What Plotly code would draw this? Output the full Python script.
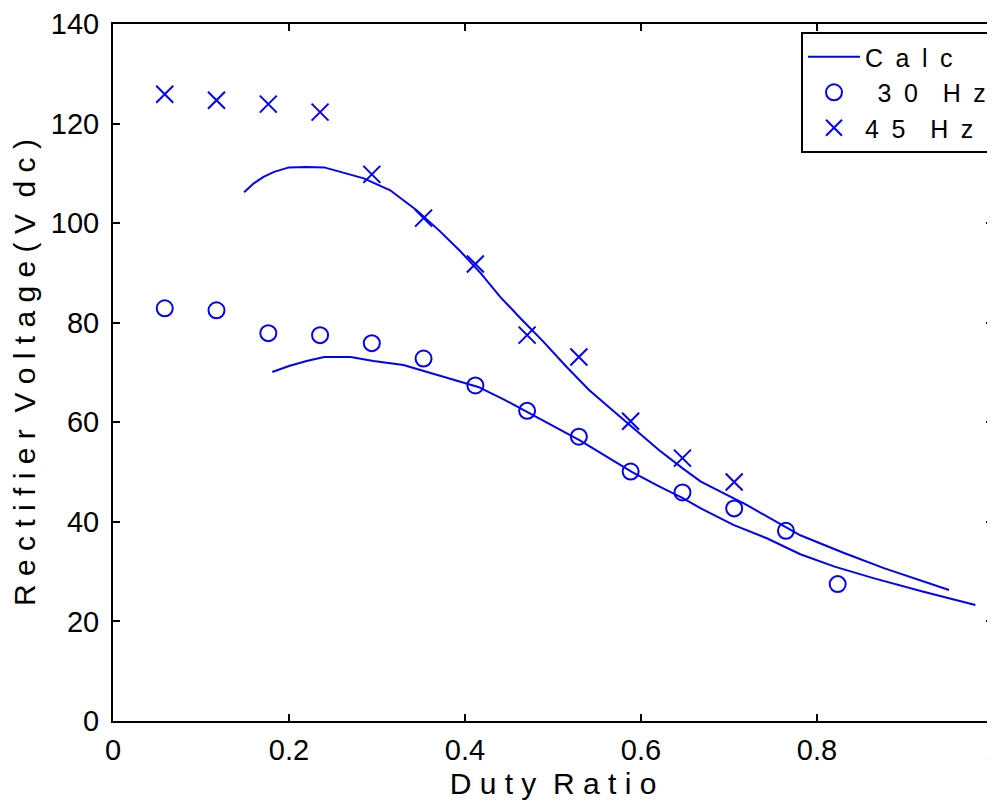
import plotly.graph_objects as go

# Measured data
duty_30 = [0.0588, 0.1176, 0.1765, 0.2353, 0.2941, 0.3529, 0.4118, 0.4706,
           0.5294, 0.5882, 0.6471, 0.7059, 0.7647, 0.8235]
volt_30 = [82.9, 82.5, 77.9, 77.5, 75.9, 72.8, 67.4, 62.3, 57.1, 50.1, 45.9, 42.7, 38.2, 27.5]

duty_45 = [0.0588, 0.1176, 0.1765, 0.2353, 0.2941, 0.3529, 0.4118, 0.4706,
           0.5294, 0.5882, 0.6471, 0.7059]
volt_45 = [125.9, 124.7, 123.9, 122.3, 109.8, 101.0, 91.8, 77.5, 73.1, 60.2, 52.8, 48.0]

# Calculated curves
calc45_x = [0.149, 0.160, 0.171, 0.183, 0.200, 0.220, 0.240, 0.262, 0.285, 0.315,
            0.345, 0.372, 0.395, 0.418, 0.440, 0.463, 0.489, 0.515, 0.541, 0.565,
            0.588, 0.620, 0.647, 0.668, 0.720, 0.781, 0.830, 0.876, 0.950]
calc45_y = [106.2, 108.0, 109.3, 110.3, 111.2, 111.3, 111.2, 110.1, 109.0, 106.6,
            102.6, 98.3, 94.3, 89.9, 85.2, 80.9, 76.2, 71.2, 66.5, 62.8,
            59.3, 54.5, 50.8, 48.1, 43.4, 37.3, 33.8, 30.7, 26.3]

calc30_x = [0.181, 0.200, 0.220, 0.240, 0.270, 0.296, 0.330, 0.357, 0.384, 0.415,
            0.445, 0.473, 0.500, 0.531, 0.560, 0.590, 0.620, 0.647, 0.668, 0.705,
            0.743, 0.781, 0.820, 0.864, 0.920, 0.980]
calc30_y = [70.1, 71.3, 72.3, 73.1, 73.1, 72.3, 71.5, 70.1, 68.8, 67.1,
            64.5, 61.8, 59.3, 56.3, 53.2, 50.0, 47.2, 44.8, 42.7, 39.4,
            36.7, 33.5, 31.0, 28.7, 26.0, 23.3]

x_ticks = [0, 0.2, 0.4, 0.6, 0.8, 1]
x_ticktext = ["0", "0.2", "0.4", "0.6", "0.8", "1"]
y_ticks = [0, 20, 40, 60, 80, 100, 120, 140]

BLUE = "#0000FF"
FONT = "Liberation Sans, Arial, Helvetica, sans-serif"
NB = "\u00a0"
EN = "\u2002"

fig = go.Figure()
fig.add_trace(go.Scatter(x=calc45_x, y=calc45_y, mode="lines",
                         line=dict(color=BLUE, width=2),
                         name=EN.join("Calc"), showlegend=True))
fig.add_trace(go.Scatter(x=duty_30, y=volt_30, mode="markers",
                         marker=dict(symbol="circle-open", size=16, color=BLUE,
                                     line=dict(width=2, color=BLUE)),
                         name=EN + "3" + EN + "0" + EN + EN + "H" + EN + "z"))
fig.add_trace(go.Scatter(x=duty_45, y=volt_45, mode="markers",
                         marker=dict(symbol="x-thin-open", size=17, color=BLUE,
                                     line=dict(width=2, color=BLUE)),
                         name="4" + EN + "5" + EN + EN + "H" + EN + "z"))
fig.add_trace(go.Scatter(x=calc30_x, y=calc30_y, mode="lines",
                         line=dict(color=BLUE, width=2),
                         name="Calc30", showlegend=False))

axis_common = dict(showline=True, linecolor="black", linewidth=2, mirror="ticks",
                   ticks="inside", ticklen=7, tickwidth=1.5, tickcolor="black",
                   showgrid=False, zeroline=False, automargin=False,
                   ticklabeloverflow="allow",
                   tickfont=dict(family=FONT, size=29, color="black"))

fig.update_xaxes(range=[0, 1], tickvals=x_ticks, ticktext=x_ticktext,
                 ticklabelstandoff=2,
                 title=dict(text=NB.join("Duty") + NB + NB + NB.join("Ratio"),
                            font=dict(family=FONT, size=30, color="black"),
                            standoff=8),
                 **axis_common)
fig.update_yaxes(range=[0, 140], tickvals=y_ticks,
                 ticklabelstandoff=6,
                 title=dict(text=NB.join("Rectifier") + NB + NB + NB.join("Voltage(V") + NB + NB + NB.join("dc)"),
                            font=dict(family=FONT, size=30, color="black"),
                            standoff=6),
                 **axis_common)

# page body has an 8px default margin, so the figure is offset by (8, 8)
fig.update_layout(
    width=987, height=796,
    margin=dict(l=105, r=2, t=16, b=83),
    plot_bgcolor="white", paper_bgcolor="white",
    font=dict(family=FONT, color="black"),
    legend=dict(x=1, xanchor="right", y=0.9885, yanchor="top",
                bgcolor="white", bordercolor="black", borderwidth=2,
                font=dict(family=FONT, size=25, color="black"),
                itemwidth=52, tracegroupgap=0),
    showlegend=True,
)

fig.write_html("out.html")
